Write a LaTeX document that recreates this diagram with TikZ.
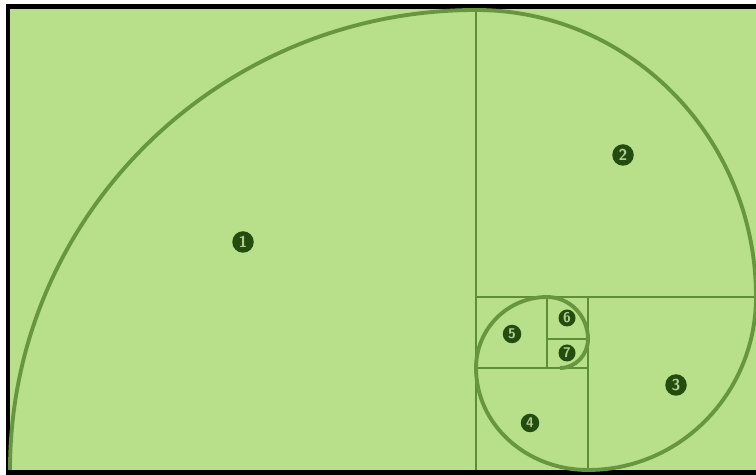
\documentclass[tikz,border=0pt]{standalone}
\usepackage{tikz}
\usetikzlibrary{positioning}
\definecolor{leafgreen}{RGB}{184, 223, 138}
\definecolor{gridgreen}{RGB}{96, 142, 56}
\definecolor{spiralgreen}{RGB}{104, 150, 62}
\definecolor{tagdark}{RGB}{36, 76, 14}
\definecolor{taglight}{RGB}{176, 206, 146}

\begin{document}
\begin{tikzpicture}[
  x=0.02cm, y=0.02cm,
  grid/.style={draw=gridgreen, line width=1.45pt},
  spiral/.style={draw=spiralgreen, line width=2.2pt},
  tag/.style={circle, fill=tagdark, text=taglight, inner sep=0pt, minimum size=0.43cm, font=\sffamily\bfseries\small},
  smalltag/.style={tag, minimum size=0.37cm, font=\sffamily\bfseries\footnotesize}
]
  \useasboundingbox (0,0) rectangle (756,475);
  \clip (0,0) rectangle (756,475);

  % Golden rectangle with black frame
  \fill[leafgreen] (8,2) rectangle (770,468);
  \draw[black, line width=2.6pt] (8,2.5) rectangle (770,468.5);

  % Squares
  \draw[grid] (476,5) -- (476,465);
  \draw[grid] (476,178) -- (756,178);
  \draw[grid] (588,178) -- (588,5);
  \draw[grid] (476,107) -- (588,107);
  \draw[grid] (547,178) -- (547,107);
  \draw[grid] (547,136) -- (588,136);

  % Spiral
  \draw[spiral] (10,5)
    arc[start angle=180, end angle=90, x radius=466, y radius=460]
    arc[start angle=90, end angle=0, x radius=280, y radius=287]
    arc[start angle=0, end angle=-90, x radius=168, y radius=173]
    arc[start angle=-90, end angle=-180, x radius=112, y radius=102]
    arc[start angle=180, end angle=90, x radius=71, y radius=71]
    arc[start angle=90, end angle=0, x radius=41, y radius=42]
    arc[start angle=0, end angle=-90, x radius=28, y radius=29];

  % Square numbers
  \node[tag] (one) at (243,233) {1};
  \node[tag] (two) at (623,320) {2};
  \node[tag] (three) at (676,90) {3};
  \node[smalltag] (four) at (530,52) {4};
  \node[smalltag] (five) at (512,141) {5};
  \node[smalltag, minimum size=0.34cm] (six) at (567,157) {6};
  \node[smalltag, minimum size=0.34cm] (seven) at (567,122) {7};
\end{tikzpicture}
\end{document}
